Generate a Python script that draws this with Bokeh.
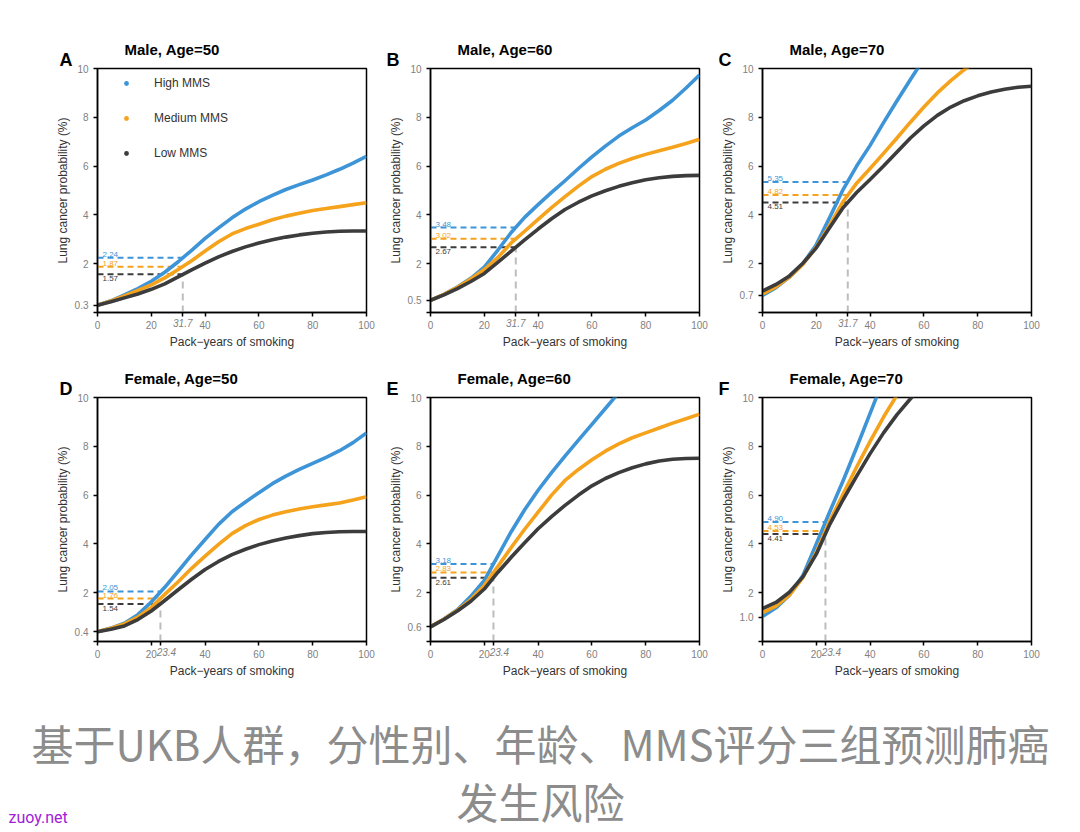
import numpy as np
from bokeh.plotting import figure
from bokeh.models import FixedTicker, Label, Legend, LegendItem
from bokeh.layouts import row, column
from bokeh.embed import file_html
from bokeh.resources import INLINE
from bokeh.core.properties import value

nan = float("nan")

# ---------------- data ----------------
PACK_YEARS = [0, 5, 10, 15, 20, 25, 30, 35, 40, 45, 50, 55, 60, 65, 70, 75, 80, 85, 90, 95, 100]
SERIES_NAMES = ["High MMS", "Medium MMS", "Low MMS"]

male50_high = [0.30, 0.48, 0.72, 0.98, 1.28, 1.65, 2.08, 2.55, 3.04, 3.47, 3.88, 4.24, 4.54, 4.80, 5.04, 5.24, 5.43, 5.64, 5.87, 6.12, 6.40]
male50_med = [0.30, 0.47, 0.68, 0.90, 1.13, 1.42, 1.76, 2.12, 2.52, 2.90, 3.22, 3.44, 3.62, 3.80, 3.95, 4.07, 4.18, 4.26, 4.34, 4.42, 4.50]
male50_low = [0.30, 0.44, 0.60, 0.76, 0.95, 1.17, 1.46, 1.75, 2.02, 2.28, 2.50, 2.69, 2.85, 2.98, 3.09, 3.18, 3.25, 3.30, 3.33, 3.34, 3.34]

male60_high = [0.50, 0.74, 1.04, 1.40, 1.86, 2.55, 3.28, 3.90, 4.42, 4.92, 5.40, 5.90, 6.38, 6.82, 7.23, 7.57, 7.89, 8.28, 8.70, 9.20, 9.73]
male60_med = [0.50, 0.74, 1.03, 1.37, 1.76, 2.25, 2.85, 3.33, 3.82, 4.30, 4.75, 5.18, 5.57, 5.87, 6.11, 6.31, 6.48, 6.63, 6.77, 6.93, 7.10]
male60_low = [0.50, 0.72, 0.98, 1.27, 1.60, 2.05, 2.52, 2.98, 3.42, 3.84, 4.22, 4.52, 4.78, 4.99, 5.17, 5.32, 5.44, 5.52, 5.58, 5.61, 5.62]

male70_high = [0.70, 1.02, 1.45, 2.00, 2.78, 3.90, 5.05, 6.00, 6.85, 7.78, 8.68, 9.55, 10.40, nan, nan, nan, nan, nan, nan, nan, nan]
male70_med = [0.76, 1.05, 1.45, 1.97, 2.68, 3.58, 4.55, 5.30, 5.90, 6.52, 7.15, 7.80, 8.42, 9.00, 9.50, 9.95, 10.35, nan, nan, nan, nan]
male70_low = [0.88, 1.15, 1.50, 2.02, 2.65, 3.48, 4.30, 4.92, 5.45, 6.00, 6.58, 7.15, 7.65, 8.08, 8.42, 8.68, 8.88, 9.04, 9.15, 9.23, 9.27]

female50_high = [0.40, 0.55, 0.75, 1.10, 1.62, 2.22, 2.88, 3.55, 4.18, 4.80, 5.32, 5.72, 6.10, 6.47, 6.78, 7.05, 7.30, 7.55, 7.82, 8.15, 8.55]
female50_med = [0.40, 0.54, 0.72, 1.00, 1.40, 1.93, 2.45, 3.00, 3.50, 3.98, 4.42, 4.75, 5.00, 5.18, 5.32, 5.43, 5.52, 5.60, 5.68, 5.80, 5.93]
female50_low = [0.40, 0.50, 0.64, 0.90, 1.25, 1.68, 2.12, 2.55, 2.95, 3.28, 3.56, 3.78, 3.97, 4.12, 4.24, 4.34, 4.42, 4.47, 4.50, 4.51, 4.51]

female60_high = [0.60, 0.92, 1.30, 1.85, 2.50, 3.50, 4.50, 5.40, 6.20, 6.92, 7.60, 8.25, 8.90, 9.55, 10.20, nan, nan, nan, nan, nan, nan]
female60_med = [0.60, 0.92, 1.28, 1.72, 2.30, 3.07, 3.85, 4.60, 5.30, 6.00, 6.60, 7.05, 7.45, 7.80, 8.10, 8.35, 8.55, 8.75, 8.95, 9.13, 9.32]
female60_low = [0.60, 0.90, 1.25, 1.65, 2.15, 2.83, 3.45, 4.05, 4.62, 5.12, 5.58, 6.00, 6.38, 6.68, 6.92, 7.12, 7.28, 7.40, 7.47, 7.50, 7.51]

female70_high = [1.02, 1.38, 1.90, 2.70, 4.00, 5.32, 6.60, 7.95, 9.35, 10.75, nan, nan, nan, nan, nan, nan, nan, nan, nan, nan, nan]
female70_med = [1.18, 1.45, 1.90, 2.62, 3.65, 4.94, 6.05, 7.15, 8.20, 9.20, 10.10, nan, nan, nan, nan, nan, nan, nan, nan, nan, nan]
female70_low = [1.35, 1.60, 2.02, 2.65, 3.58, 4.80, 5.82, 6.78, 7.70, 8.55, 9.30, 9.95, 10.50, nan, nan, nan, nan, nan, nan, nan, nan]

# reference pack-years and predicted probabilities (high, medium, low)
male_cut = 31.7
female_cut = 23.4
male50_ref = [2.24, 1.87, 1.57]
male60_ref = [3.48, 3.02, 2.67]
male70_ref = [5.35, 4.82, 4.51]
female50_ref = [2.05, 1.76, 1.54]
female60_ref = [3.18, 2.83, 2.61]
female70_ref = [4.90, 4.53, 4.41]

# lowest labelled y tick in each panel
base_ticks = [0.3, 0.5, 0.7, 0.4, 0.6, 1.0]
base_labels = ["0.3", "0.5", "0.7", "0.4", "0.6", "1.0"]
x_ticks = [0, 20, 40, 60, 80, 100]
y_ticks = [2, 4, 6, 8, 10]

letters = ["A", "B", "C", "D", "E", "F"]
titles = ["Male, Age=50", "Male, Age=60", "Male, Age=70",
          "Female, Age=50", "Female, Age=60", "Female, Age=70"]

caption_lines = ["基于UKB人群，分性别、年龄、MMS评分三组预测肺癌", "发生风险"]
watermark = "zuoy.net"

# ---------------- style / layout ----------------
COLORS = ["#3d94d6", "#f5a21c", "#3c3c3c"]
REF_GREY = "#bdbdbd"
TICK_GREY = "#7f7f7f"
FONT = "Liberation Sans"
FRAME_W, FRAME_H = 269, 245
LEFTS = [97, 50, 49]
RIGHTS = [14, 14, 20]
TOPS = [68, 38]
BOTTOM = 46
WIDTHS = [l + FRAME_W + r for l, r in zip(LEFTS, RIGHTS)]
LETTER_DX = [-38, -44, -44]   # px from frame left
TITLE_DX = 27                 # px from frame left
LETTER_UP = 9                 # baseline, px above frame top
TITLE_UP = -1                 # stacked above the letter's slot (~13.5 px)


def px_to_x(px):
    return px * 100.0 / FRAME_W


def make_panel(i, high, med, low, cut, refs):
    col, r = i % 3, i // 3
    p = figure(width=WIDTHS[col], height=TOPS[r] + FRAME_H + BOTTOM,
               x_range=(0, 100), y_range=(0, 10),
               output_backend="svg", toolbar_location=None, title=None,
               min_border_left=LEFTS[col], min_border_right=RIGHTS[col],
               min_border_top=TOPS[r], min_border_bottom=BOTTOM,
               background_fill_color="white", border_fill_color="white")
    p.xgrid.visible = False
    p.ygrid.visible = False
    p.outline_line_color = "black"
    p.outline_line_width = 1.5
    p.outline_line_alpha = 1.0

    xt = sorted(x_ticks + [cut])
    xlab = {t: ("" if t == cut else str(int(t))) for t in xt}
    yt = [0, base_ticks[i]] + y_ticks
    ylab = {0: "", base_ticks[i]: base_labels[i]}
    ylab.update({t: str(t) for t in y_ticks})

    p.xaxis.ticker = FixedTicker(ticks=xt, minor_ticks=[])
    p.xaxis.major_label_overrides = xlab
    p.yaxis.ticker = FixedTicker(ticks=yt, minor_ticks=[])
    p.yaxis.major_label_overrides = ylab
    p.xaxis.axis_label = "Pack\u2212years of smoking"
    p.yaxis.axis_label = "Lung cancer probability (%)"
    for ax in (p.xaxis[0], p.yaxis[0]):
        ax.axis_line_color = "black"
        ax.axis_line_width = 1.5
        ax.major_tick_line_color = "black"
        ax.major_tick_line_width = 1.5
        ax.major_tick_out = 4
        ax.major_tick_in = 0
        ax.minor_tick_line_color = None
        ax.major_label_text_font = FONT
        ax.major_label_text_font_size = "10px"
        ax.major_label_text_color = TICK_GREY
        ax.axis_label_text_font = FONT
        ax.axis_label_text_font_size = "12px"
        ax.axis_label_text_color = "#333333"
        ax.axis_label_text_font_style = "normal"
    p.xaxis.major_label_standoff = 4
    p.xaxis.axis_label_standoff = 3
    p.yaxis.major_label_standoff = 5
    p.yaxis.axis_label_standoff = 2

    # reference guides
    p.segment(x0=[cut], y0=[0], x1=[cut], y1=[refs[2]], line_color=REF_GREY,
              line_width=2, line_dash="7 5")
    p.segment(x0=[0, 0, 0], y0=refs, x1=[cut, cut, cut], y1=refs,
              line_color=COLORS, line_width=2, line_dash="6 4")

    # curves
    xs = np.array(PACK_YEARS, dtype=float)
    for ys, c in zip([high, med, low], COLORS):
        p.line(xs, np.array(ys, dtype=float), line_color=c, line_width=3.6,
               line_join="round")

    # value labels
    p.text(x=[0, 0], y=refs[:2], text=[f"{v:.2f}" for v in refs[:2]],
           x_offset=5, y_offset=-1, text_baseline="bottom", text_align="left",
           text_color=COLORS[:2], text_font=value(FONT), text_font_size="8px")
    p.text(x=[0], y=[refs[2]], text=[f"{refs[2]:.2f}"],
           x_offset=5, y_offset=2, text_baseline="top", text_align="left",
           text_color=COLORS[2], text_font=value(FONT), text_font_size="8px")

    # italic tick label for the reference pack-years (side panel, not clipped)
    p.add_layout(Label(x=cut, y=BOTTOM - 5, x_units="data", y_units="screen",
                       text=f"{cut}", x_offset=(6 if cut - 20 < 5 else 0),
                       text_align="center", text_baseline="top",
                       text_font=FONT, text_font_size="10px",
                       text_font_style="italic", text_color=TICK_GREY), "below")
    # panel letter and title (side panel above the frame)
    p.add_layout(Label(x=px_to_x(LETTER_DX[col]), y=LETTER_UP, x_units="data",
                       y_units="screen", text=letters[i], text_align="left",
                       text_baseline="alphabetic", text_font=FONT,
                       text_font_size="18px", text_font_style="bold",
                       text_color="black"), "above")
    p.add_layout(Label(x=px_to_x(TITLE_DX), y=TITLE_UP, x_units="data",
                       y_units="screen", text=titles[i], text_align="left",
                       text_baseline="alphabetic", text_font=FONT,
                       text_font_size="15px", text_font_style="bold",
                       text_color="black"), "above")
    return p


panel_data = [
    (male50_high, male50_med, male50_low, male_cut, male50_ref),
    (male60_high, male60_med, male60_low, male_cut, male60_ref),
    (male70_high, male70_med, male70_low, male_cut, male70_ref),
    (female50_high, female50_med, female50_low, female_cut, female50_ref),
    (female60_high, female60_med, female60_low, female_cut, female60_ref),
    (female70_high, female70_med, female70_low, female_cut, female70_ref),
]
panels = [make_panel(i, *d) for i, d in enumerate(panel_data)]

# legend in panel A (markers of zero size on the high/medium/low data)
pa = panels[0]
xs0 = np.array(PACK_YEARS, dtype=float)
dots = [pa.scatter(xs0, np.array(ys, dtype=float), marker="circle", size=0,
                   fill_color=c, line_alpha=0)
        for ys, c in zip([male50_high, male50_med, male50_low], COLORS)]
legend = Legend(items=[LegendItem(label=n, renderers=[d]) for n, d in zip(SERIES_NAMES, dots)],
                location=(23, 152), padding=0, margin=0, spacing=21,
                glyph_width=12, glyph_height=14, label_height=14,
                label_standoff=22, label_text_font=FONT,
                label_text_font_size="12px", label_text_color="#333333",
                border_line_color=None, background_fill_alpha=0)
pa.add_layout(legend)

# caption
CAP_W, CAP_H = 1072, 144
cap = figure(width=CAP_W, height=CAP_H, x_range=(0, CAP_W), y_range=(0, CAP_H),
             output_backend="svg", toolbar_location=None, title=None,
             min_border=0, outline_line_color=None)
cap.axis.visible = False
cap.grid.visible = False
cap.text(x=[540, 540], y=[CAP_H - 54, CAP_H - 112], text=caption_lines,
         text_align="center", text_baseline="middle",
         text_font=value("Noto Sans CJK SC"), text_font_size="42px",
         text_color="#8c8c8c")
cap.text(x=[8], y=[15], text=[watermark], text_align="left", text_baseline="middle",
         text_font=value("Roboto"), text_font_size="16px", text_color="#a020d8")

layout = column(row(*panels[:3]), row(*panels[3:]), cap)
open("out.html", "w").write(file_html(layout, INLINE))
